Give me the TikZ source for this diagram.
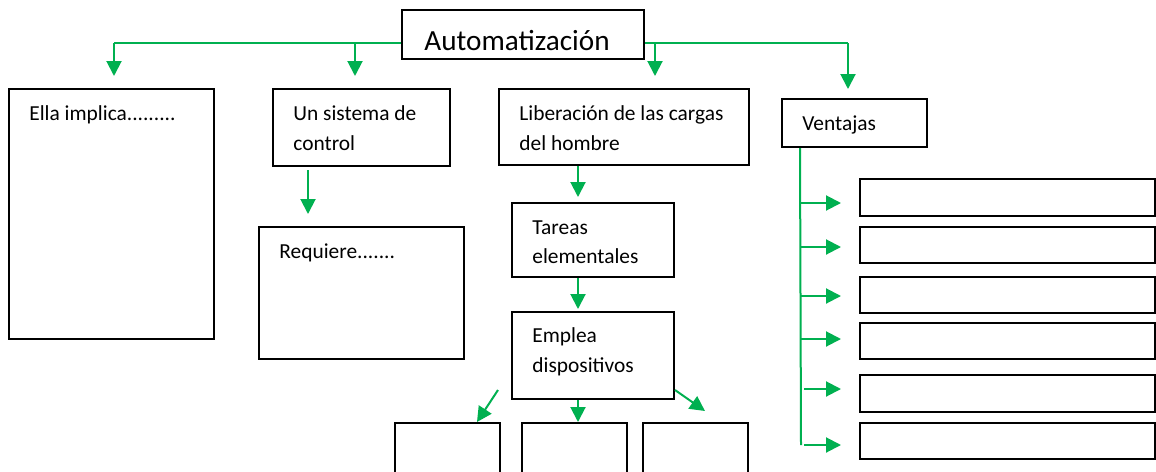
\documentclass[tikz,border=0pt]{standalone}
\usepackage{fontspec}
\setmainfont{Carlito}
\usetikzlibrary{arrows.meta,fit}
\definecolor{og}{HTML}{00B050}
\tikzset{
  box/.style={draw=black, line width=1pt, inner sep=0pt, fill=none},
  txt/.style={anchor=base west, inner sep=0pt, font=\fontsize{10.7pt}{13pt}\selectfont},
  ttl/.style={anchor=base west, inner sep=0pt, font=\fontsize{14.6pt}{17pt}\selectfont},
  gline/.style={draw=og, line width=1pt},
  garr/.style={draw=og, line width=1pt, -{Triangle[length=7.5pt,width=7.5pt]}},
}
\begin{document}
\begin{tikzpicture}[x=0.5pt,y=-0.5pt]
\useasboundingbox (0,0) rectangle (1156,471);
\clip (0,0) rectangle (1156,471);
\fill[white] (0,0) rectangle (1156,471);
% boxes
\node[box, fit={(402,10) (644,59)}] (title) {};
\node[box, fit={(9,89) (214,339)}] (ella) {};
\node[box, fit={(273,89) (450,166)}] (sis) {};
\node[box, fit={(259,227) (464,359)}] (req) {};
\node[box, fit={(499,89) (749,165)}] (lib) {};
\node[box, fit={(512,203) (674,277)}] (tar) {};
\node[box, fit={(512,312) (674,399)}] (emp) {};
\node[box, fit={(395,423) (500,490)}] (b1) {};
\node[box, fit={(522,423) (627,490)}] (b2) {};
\node[box, fit={(643,423) (748,490)}] (b3) {};
\node[box, fit={(782,99) (927,147)}] (ven) {};
\node[box, fit={(860,179) (1155,216)}] (r1) {};
\node[box, fit={(860,227) (1155,263)}] (r2) {};
\node[box, fit={(860,277) (1155,313)}] (r3) {};
\node[box, fit={(860,323) (1155,359)}] (r4) {};
\node[box, fit={(860,375) (1155,412)}] (r5) {};
\node[box, fit={(860,423) (1155,459)}] (r6) {};
% texts
\node[ttl] (ttitle) at (424,50) {Automatización};
\node[txt] (tella) at (29,120) {Ella implica.........};
\node[txt] (tsis1) at (293,120) {Un sistema de};
\node[txt] (tsis2) at (293,150) {control};
\node[txt] (treq) at (279,258) {Requiere.......};
\node[txt] (tlib1) at (519,120) {Liberación de las cargas};
\node[txt] (tlib2) at (519,150) {del hombre};
\node[txt] (ttar1) at (532,234) {Tareas};
\node[txt] (ttar2) at (532,263) {elementales};
\node[txt] (temp1) at (532,342) {Emplea};
\node[txt] (temp2) at (532,372) {dispositivos};
\node[txt] (tven) at (802,130) {Ventajas};
% top connectors
\coordinate (jl) at (114,43);
\coordinate (js) at (355,43);
\coordinate (jb) at (655,43);
\coordinate (jr) at (848,43);
\draw[gline] (title.west |- jl) -- (jl);
\draw[gline] (title.east |- jr) -- (jr);
\draw[garr, shorten >=6pt] (jl) -- (jl |- ella.north);
\draw[garr, shorten >=6pt] (js) -- (js |- sis.north);
\draw[garr, shorten >=6pt] (jb) -- (jb |- lib.north);
\draw[garr, shorten >=4.5pt] (jr) -- (jr |- ven.north);
% middle chains
\coordinate (sx) at (308,0);
\draw[garr, shorten <=1.5pt, shorten >=6pt] (sis.south -| sx) -- (req.north -| sx);
\coordinate (lx) at (578,0);
\draw[garr, shorten >=2.5pt] (lib.south -| lx) -- (tar.north -| lx);
\draw[garr, shorten >=1pt] (tar.south -| lx) -- (emp.north -| lx);
\draw[garr] (emp.south -| lx) -- (b2.north -| lx);
\draw[garr] ([xshift=-6.5pt,yshift=5pt]emp.south west) -- ([xshift=-12pt]b1.north east);
\draw[garr] ([yshift=5pt]emp.south east) -- ([xshift=31.5pt,yshift=5.5pt]b3.north west);
% ventajas
\coordinate (vx) at (800,0);
\coordinate (vbot) at (801,445);
\draw[gline] (ven.south -| vx) -- (vbot);
\foreach \r/\d/\s in {r1/-2.75/0, r2/-1/0, r3/-0.5/0, r4/1/0, r5/2.25/2, r6/-2/2}{
  \draw[garr, shorten <=\s pt, shorten >=9pt] ([yshift=\d pt]vx |- \r.west) -- ([yshift=\d pt]\r.west);
}
\end{tikzpicture}
\end{document}
